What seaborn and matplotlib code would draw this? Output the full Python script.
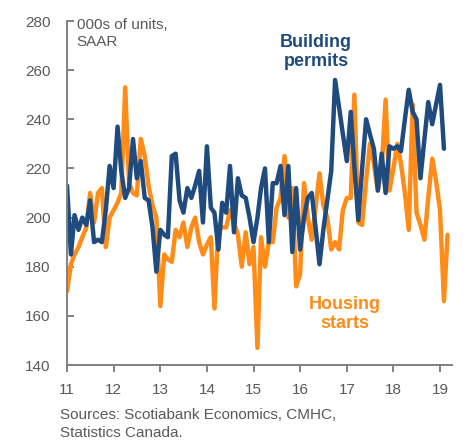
import pandas as pd
import numpy as np
import matplotlib
matplotlib.use('Agg')
import matplotlib.pyplot as plt
import matplotlib.dates as mdates
import seaborn as sns

# monthly data, Jan 2011 onward (000s of units, SAAR)
start_month = '2011-01-01'
permits = [213, 185, 201, 195, 200, 197, 207, 190, 191, 190, 203, 221,
           212, 237, 219, 208, 212, 232, 216, 223, 208, 207, 196, 178,
           195, 193, 192, 225, 226, 207, 202, 212, 208, 213, 219, 198,
           229, 204, 202, 187, 206, 202, 221, 194, 216, 209, 208, 200,
           190, 200, 212, 220, 190, 214, 214, 221, 201, 221, 186, 212,
           187, 200, 208, 210, 196, 181, 195, 207, 219, 256, 245, 234,
           223, 243, 221, 199, 220, 240, 234, 228, 211, 226, 210, 229,
           228, 229, 227, 240, 252, 243, 240, 216, 232, 247, 238, 246,
           254, 228]
starts = [170, 181, 185, 188, 192, 196, 210, 198, 210, 212, 188, 200,
          203, 206, 210, 253, 214, 210, 209, 232, 225, 213, 205, 200,
          164, 185, 183, 182, 195, 192, 198, 188, 196, 200, 190, 185,
          189, 192, 163, 197, 196, 196, 203, 198, 193, 180, 194, 181,
          188, 147, 192, 180, 190, 190, 204, 208, 225, 200, 212, 172,
          177, 214, 200, 191, 204, 218, 205, 200, 187, 190, 187, 203,
          208, 208, 250, 198, 197, 215, 230, 222, 211, 220, 248, 211,
          220, 230, 222, 210, 195, 246, 202, 197, 191, 208, 224, 215,
          203, 166, 193]
year_ticks = list(range(2011, 2020))
tick_labels = [str(y)[2:] for y in year_ticks]

blue = '#1f4b7e'
orange = '#ff8c19'
grey = '#595959'

dates = pd.date_range(start_month, periods=len(starts), freq='MS')
df = pd.concat([
    pd.DataFrame({'date': dates[:len(permits)], 'value': permits, 'series': 'Building permits'}),
    pd.DataFrame({'date': dates, 'value': starts, 'series': 'Housing starts'}),
])

sns.set_style('white')
plt.rcParams['font.family'] = ['Liberation Sans', 'DejaVu Sans']

fig = plt.figure(figsize=(4.73, 4.44), dpi=100)
ax = fig.add_axes([67/473, 1-365/444, 385/473, 344/444])

# starts drawn first so permits sit on top
sns.lineplot(data=df, x='date', y='value', hue='series',
             hue_order=['Housing starts', 'Building permits'],
             palette={'Building permits': blue, 'Housing starts': orange},
             linewidth=3.2, legend=False, ax=ax)

ax.set_ylim(140, 280)
ax.set_yticks(range(140, 281, 20))
ax.set_xlim(pd.Timestamp('2011-01-01'), pd.Timestamp('2019-04-05'))
ax.set_xticks([pd.Timestamp(f'{y}-01-01') for y in year_ticks])
ax.set_xticklabels(tick_labels)
ax.set_xlabel('')
ax.set_ylabel('')

for s in ['top', 'right']:
    ax.spines[s].set_visible(False)
for s in ['left', 'bottom']:
    ax.spines[s].set_color('#808080')
    ax.spines[s].set_linewidth(1.4)
ax.tick_params(axis='y', direction='in', length=5, width=1.4, color='#808080',
               labelsize=11, labelcolor=grey, pad=12, left=True)
ax.tick_params(axis='x', direction='out', length=5, width=1.4, color='#808080',
               labelsize=11, labelcolor=grey, pad=8, bottom=True)

ax.text(0.025, 1.01, '000s of units,\nSAAR', transform=ax.transAxes,
        va='top', ha='left', fontsize=11, color=grey, linespacing=1.3)
fig.text(316/473, 1-52/444, 'Building\npermits', ha='center', va='center',
         fontsize=13, fontweight='bold', color=blue, linespacing=1.1)
fig.text(345/473, 1-314/444, 'Housing\nstarts', ha='center', va='center',
         fontsize=13, fontweight='bold', color=orange, linespacing=1.1)
fig.text(60/473, 1-424/444, 'Sources: Scotiabank Economics, CMHC,\nStatistics Canada.',
         ha='left', va='center', fontsize=11, color=grey, linespacing=1.3)

fig.savefig('out.png', dpi=100)
